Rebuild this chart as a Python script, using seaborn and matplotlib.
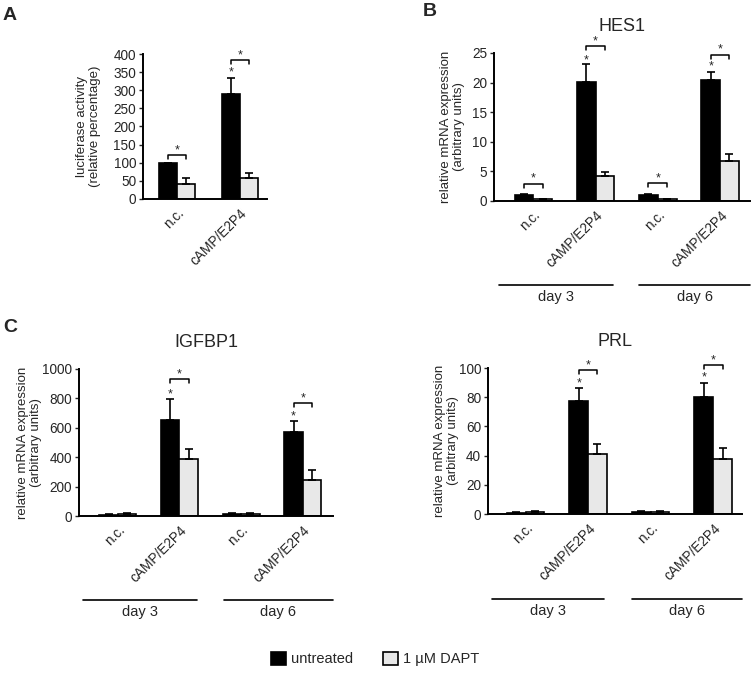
import numpy as np
import pandas as pd
import matplotlib
matplotlib.use('Agg')
import matplotlib.pyplot as plt
import matplotlib.transforms as mtrans
from matplotlib.patches import Patch
import seaborn as sns

sns.set_theme(style='white')
plt.rcParams['font.family'] = ['Liberation Sans', 'DejaVu Sans']

treatments = ['untreated', '1 µM DAPT']
colors = ['#000000', '#e8e8e8']

# ---- Panel A: luciferase ----
a_conditions = ['n.c.', 'cAMP/E2P4']
a_untreated = [100, 289]
a_untreated_err = [0, 46]
a_dapt = [41, 57]
a_dapt_err = [18, 15]
a_bracket = [121, 383]
a_star = [None, 350]

# ---- Panels B/C/D: four conditions ----
conditions = ['n.c.', 'cAMP/E2P4', 'n.c.', 'cAMP/E2P4']
days = ['day 3', 'day 6']

hes1_untreated = [1.0, 20.1, 1.0, 20.5]
hes1_untreated_err = [0.1, 3.0, 0.2, 1.3]
hes1_dapt = [0.3, 4.2, 0.3, 6.8]
hes1_dapt_err = [0.05, 0.7, 0.1, 1.2]
hes1_bracket = [2.9, 26.1, 3.0, 24.7]
hes1_star = [None, 23.8, None, 22.7]

igfbp1_untreated = [10, 653, 15, 569]
igfbp1_untreated_err = [3, 143, 5, 77]
igfbp1_dapt = [15, 386, 15, 243]
igfbp1_dapt_err = [5, 72, 5, 70]
igfbp1_bracket = [None, 932, None, 766]
igfbp1_star = [None, 830, None, 675]

prl_untreated = [1.0, 77.4, 1.5, 80.4]
prl_untreated_err = [0.3, 8.6, 0.5, 9.6]
prl_dapt = [1.5, 41, 1.5, 38]
prl_dapt_err = [0.5, 7, 0.5, 7]
prl_bracket = [None, 98.6, None, 102]
prl_star = [None, 89.5, None, 93.5]

W, H = 754, 674
fig = plt.figure(figsize=(W / 100, H / 100), dpi=100)


def add_ax(left, right, bottom, top):
    return fig.add_axes([left / W, 1 - bottom / H, (right - left) / W, (bottom - top) / H])


def panel(ax, conds, unt, unt_err, dap, dap_err, bracket, star, ylim, yticks,
          xlim, width, ylabel, label_x, title=None, day_lines=None):
    keys = [f'{c}#{i}' for i, c in enumerate(conds)]
    df = pd.DataFrame({
        'cond': keys * 2,
        'treatment': [treatments[0]] * len(keys) + [treatments[1]] * len(keys),
        'value': list(unt) + list(dap),
    })
    sns.barplot(data=df, x='cond', y='value', hue='treatment', order=keys,
                hue_order=treatments, palette=colors, edgecolor='black',
                linewidth=1.2, width=width, errorbar=None, legend=False,
                saturation=1, ax=ax)
    errs = [unt_err, dap_err]
    bar_conts = list(ax.containers)[:2]
    centers = []
    for ci, cont in enumerate(bar_conts):
        xs = [b.get_x() + b.get_width() / 2 for b in cont]
        hs = [b.get_height() for b in cont]
        centers.append(xs)
        ax.errorbar(xs, hs, yerr=[np.zeros(len(hs)), errs[ci]], fmt='none',
                    ecolor='black', elinewidth=1.2, capsize=2.6, capthick=1.2,
                    zorder=1)
    ax.set_ylim(*ylim)
    ax.set_yticks(yticks)
    ax.set_xlim(*xlim)
    ax.set_xticks(range(len(conds)))
    ax.set_xticklabels(conds, rotation=45, ha='right', rotation_mode='anchor',
                       fontsize=9.8)
    ax.tick_params(axis='x', length=0, pad=5)
    ax.tick_params(axis='y', length=3, width=1, direction='out', labelsize=9.8,
                   pad=2, left=True)
    for s in ['top', 'right']:
        ax.spines[s].set_visible(False)
    for s in ['left', 'bottom']:
        ax.spines[s].set_linewidth(1.4)
        ax.spines[s].set_color('black')
    ax.set_xlabel('')
    ax.set_ylabel(ylabel, fontsize=9.5, linespacing=1.1)
    ax.yaxis.set_label_coords(label_x, 0.5)
    if title:
        ax.set_title(title, fontsize=13, pad=16)
    # significance
    hpx = ax.get_position().height * H
    upp = (ylim[1] - ylim[0]) / hpx
    for i in range(len(conds)):
        x1, x2 = centers[0][i], centers[1][i]
        if bracket[i] is not None:
            yb = bracket[i]
            ax.plot([x1, x1, x2, x2], [yb - 4 * upp, yb, yb, yb - 4 * upp],
                    color='black', lw=1.1, clip_on=False)
            ax.text((x1 + x2) / 2, yb + 5 * upp, '*', ha='center', va='center',
                    fontsize=9, clip_on=False)
        if star[i] is not None:
            ax.text(x1, star[i], '*', ha='center', va='center', fontsize=9,
                    clip_on=False)
    if day_lines:
        tr = mtrans.blended_transform_factory(ax.transData, ax.transAxes)
        for (xa, xb), lab in zip(day_lines[0], days):
            ax.plot([xa, xb], [day_lines[1], day_lines[1]], color='black',
                    lw=1.2, transform=tr, clip_on=False)
            ax.text((xa + xb) / 2, day_lines[1] - 0.035, lab, transform=tr,
                    ha='center', va='top', fontsize=10.5)


axA = add_ax(143, 267, 199, 54)
panel(axA, a_conditions, a_untreated, a_untreated_err, a_dapt, a_dapt_err,
      a_bracket, a_star, (0, 400), range(0, 401, 50), (-0.54, 1.43), 0.57,
      'luciferase activity\n(relative percentage)', -0.34)

axB = add_ax(494, 750, 201, 53)
panel(axB, conditions, hes1_untreated, hes1_untreated_err, hes1_dapt,
      hes1_dapt_err, hes1_bracket, hes1_star, (0, 25), range(0, 26, 5),
      (-0.63, 3.48), 0.6, 'relative mRNA expression\n(arbitrary units)', -0.113,
      title='HES1', day_lines=([(-0.55, 1.28), (1.7, 3.48)], -0.568))

axC = add_ax(79, 333, 516, 369)
panel(axC, conditions, igfbp1_untreated, igfbp1_untreated_err, igfbp1_dapt,
      igfbp1_dapt_err, igfbp1_bracket, igfbp1_star, (0, 1000),
      range(0, 1001, 200), (-0.63, 3.49), 0.6,
      'relative mRNA expression\n(arbitrary units)', -0.146,
      title='IGFBP1', day_lines=([(-0.57, 1.28), (1.72, 3.49)], -0.571))

axD = add_ax(488, 742, 514, 368)
panel(axD, conditions, prl_untreated, prl_untreated_err, prl_dapt,
      prl_dapt_err, prl_bracket, prl_star, (0, 100), range(0, 101, 20),
      (-0.6, 3.46), 0.6, 'relative mRNA expression\n(arbitrary units)', -0.114,
      title='PRL', day_lines=([(-0.54, 1.26), (1.7, 3.46)], -0.58))

fig.text(3 / W, 1 - 15 / H, 'A', fontsize=14, fontweight='bold', va='center')
fig.text(423 / W, 1 - 12 / H, 'B', fontsize=14, fontweight='bold', va='center')
fig.text(3 / W, 1 - 327 / H, 'C', fontsize=14, fontweight='bold', va='center')

handles = [Patch(facecolor=c, edgecolor='black', linewidth=1.2) for c in colors]
fig.legend(handles, treatments, loc='center', bbox_to_anchor=(375 / W, 1 - 659 / H),
           ncol=2, frameon=False, fontsize=10.5, handlelength=1.05,
           handleheight=1.05, handletextpad=0.35, columnspacing=2.0)

fig.savefig('out.png', dpi=100)
